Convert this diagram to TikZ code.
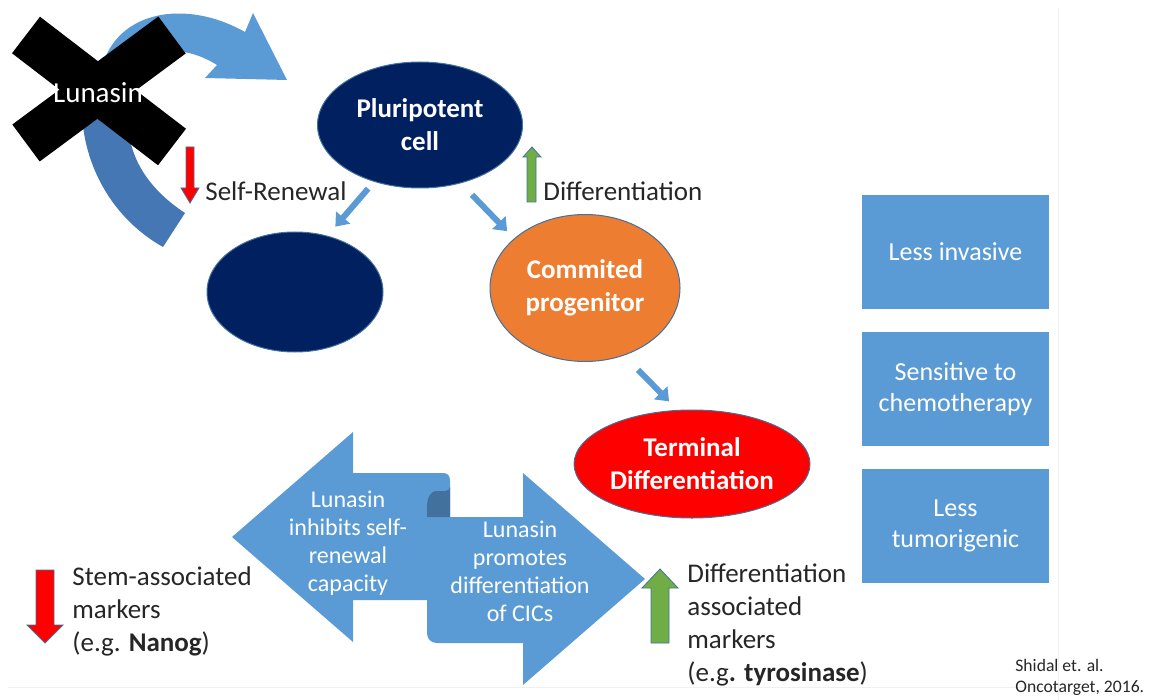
\documentclass[tikz,border=0pt]{standalone}
\usepackage{fontspec}
\setmainfont{Carlito}
\usetikzlibrary{positioning,arrows.meta,shapes.geometric}
\definecolor{navyCell}{HTML}{002060}
\definecolor{orangeCell}{HTML}{ED7D31}
\definecolor{redCell}{HTML}{FF0000}
\definecolor{boxBlue}{HTML}{5B9BD5}
\definecolor{edgeBlue}{HTML}{41719C}
\definecolor{bandBlue}{HTML}{4677B5}
\definecolor{greenArrow}{HTML}{70AD47}
\definecolor{textGray}{HTML}{262626}
\begin{document}
\begin{tikzpicture}
[x=0.5pt,y=-0.5pt,%
  cellDecorate/.style={shape=ellipse,draw=edgeBlue,line width=0.5pt,inner sep=0pt,text=white,%
    font=\fontsize{13.5}{16.5}\selectfont\bfseries,align=center},%
  boxDecorate/.style={shape=rectangle,fill=boxBlue,minimum width=93.5pt,minimum height=57pt,%
    text=white,font=\fontsize{13}{15.5}\selectfont,align=center},%
  arrowDecorate/.style={-{Triangle[width=9pt,length=6pt]},line width=3pt,draw=boxBlue},%
  labelDecorate/.style={text=textGray,font=\fontsize{13.5}{16.5}\selectfont,align=left,inner sep=0pt},%
  scrollText/.style={text=white,font=\fontsize{12}{14}\selectfont,align=center,inner sep=0pt},%
  blockDecorate/.style={draw=edgeBlue,line width=0.4pt}]
\useasboundingbox (0,0) rectangle (1155,700);
%% slide edges
\draw[gray!12,line width=0.5pt] (1058,8) -- (1058,700);
\draw[gray!12,line width=0.5pt] (8,687) -- (1058,687);
%% curved arrows behind the cross
\fill[boxBlue] (100,75) .. controls (112,10) and (185,-2) .. (245,32) -- (253,13) -- (287,80)
  -- (205,78) -- (217,65) .. controls (185,45) and (150,45) .. (125,80) -- cycle;
\fill[bandBlue] (82,115) .. controls (85,170) and (115,220) .. (163,247) -- (185,213)
  .. controls (150,190) and (130,160) .. (128,125) -- cycle;
%% the cross
\draw[black,line width=23pt] (26,35) -- (172,147);
\draw[black,line width=23pt] (26,143) -- (172,35);
\node (lunasin) at (98,93) [text=white,font=\fontsize{14.5}{17}\selectfont,inner sep=0pt] {Lunasin};
%% nodes or vertices
\node (pluri) at (420,125) [cellDecorate,fill=navyCell,minimum width=102.5pt,minimum height=63pt] {Pluripotent\\cell};
\node (stem) at (295,292) [cellDecorate,fill=navyCell,minimum width=88pt,minimum height=60pt] {};
\node (prog) at (585,288) [cellDecorate,fill=orangeCell,minimum width=95pt,minimum height=73.5pt] {Commited\\progenitor};
\node (term) at (692,464) [cellDecorate,fill=redCell,minimum width=118pt,minimum height=54pt] {Terminal\\Differentiation};
\node (invasive) at (955.5,252) [boxDecorate] {Less invasive};
\node (chemo) [boxDecorate,below=11pt of invasive] {Sensitive to\\chemotherapy};
\node (tumor) [boxDecorate,below=11pt of chemo] {Less\\tumorigenic};
\node (renewal) at (205,191) [labelDecorate,anchor=west] {Self-Renewal};
\node (diffLabel) at (543,191) [labelDecorate,anchor=west] {Differentiation};
%% edges or lines
\path (pluri.231) edge[arrowDecorate,shorten <=4.5pt,shorten >=6pt] (stem.60);
\path (pluri.305) edge[arrowDecorate,shorten <=8pt,shorten >=5pt] (prog.145);
\path (prog.-60) edge[arrowDecorate,shorten <=10pt,shorten >=6pt] (term.105);
%% small up and down arrows
\filldraw[blockDecorate,fill=redCell] (186,147) -- (194,147) -- (194,188) -- (199,188) -- (190,203)
  -- (181,188) -- (186,188) -- cycle;
\filldraw[blockDecorate,fill=greenArrow] (527,202) -- (536,202) -- (536,157) -- (541,157) -- (532,147)
  -- (523,157) -- (527,157) -- cycle;
%% scroll of two arrows
\fill[boxBlue] (232,537) -- (353,432) -- (353,473) -- (443,473) .. controls (448,473) and (450,476) .. (450,481)
  -- (450,600) -- (353,600) -- (353,642) -- cycle;
\fill[boxBlue] (427,507) -- (427,517) -- (523,517) -- (523,473) -- (645,579) -- (523,685) -- (523,643)
  -- (437,643) .. controls (431,643) and (427,639) .. (427,633) -- cycle;
\fill[edgeBlue] (450,487) .. controls (450,492) and (443,491) .. (437,491) .. controls (430,491) and (427,498) .. (427,507)
  -- (427,517) -- (450,517) -- cycle;
\node (inhibits) at (348,543) [scrollText] {Lunasin\\inhibits self-\\renewal\\capacity};
\node (promotes) at (520,571) [scrollText] {Lunasin\\promotes\\differentiation\\of CICs};
%% markers
\filldraw[blockDecorate,fill=redCell] (36,570) -- (54,570) -- (54,625) -- (63,625) -- (45,643)
  -- (27,625) -- (36,625) -- cycle;
\node (stemMarkers) at (72,611) [labelDecorate,anchor=west] {Stem-associated\\markers\\(e.g. \textbf{Nanog})};
\filldraw[blockDecorate,fill=greenArrow] (651,643) -- (669,643) -- (669,588) -- (678,588) -- (660,569)
  -- (642,588) -- (651,588) -- cycle;
\node (diffMarkers) at (687,625) [labelDecorate,anchor=west] {Differentiation\\associated\\markers\\(e.g\textbf{. tyrosinase})};
\node (cite) at (1015,677) [anchor=west,text=textGray,font=\fontsize{8.8}{10.5}\selectfont,align=left,inner sep=0pt] {Shidal et. al.\\Oncotarget, 2016.};
\end{tikzpicture}
\end{document}
